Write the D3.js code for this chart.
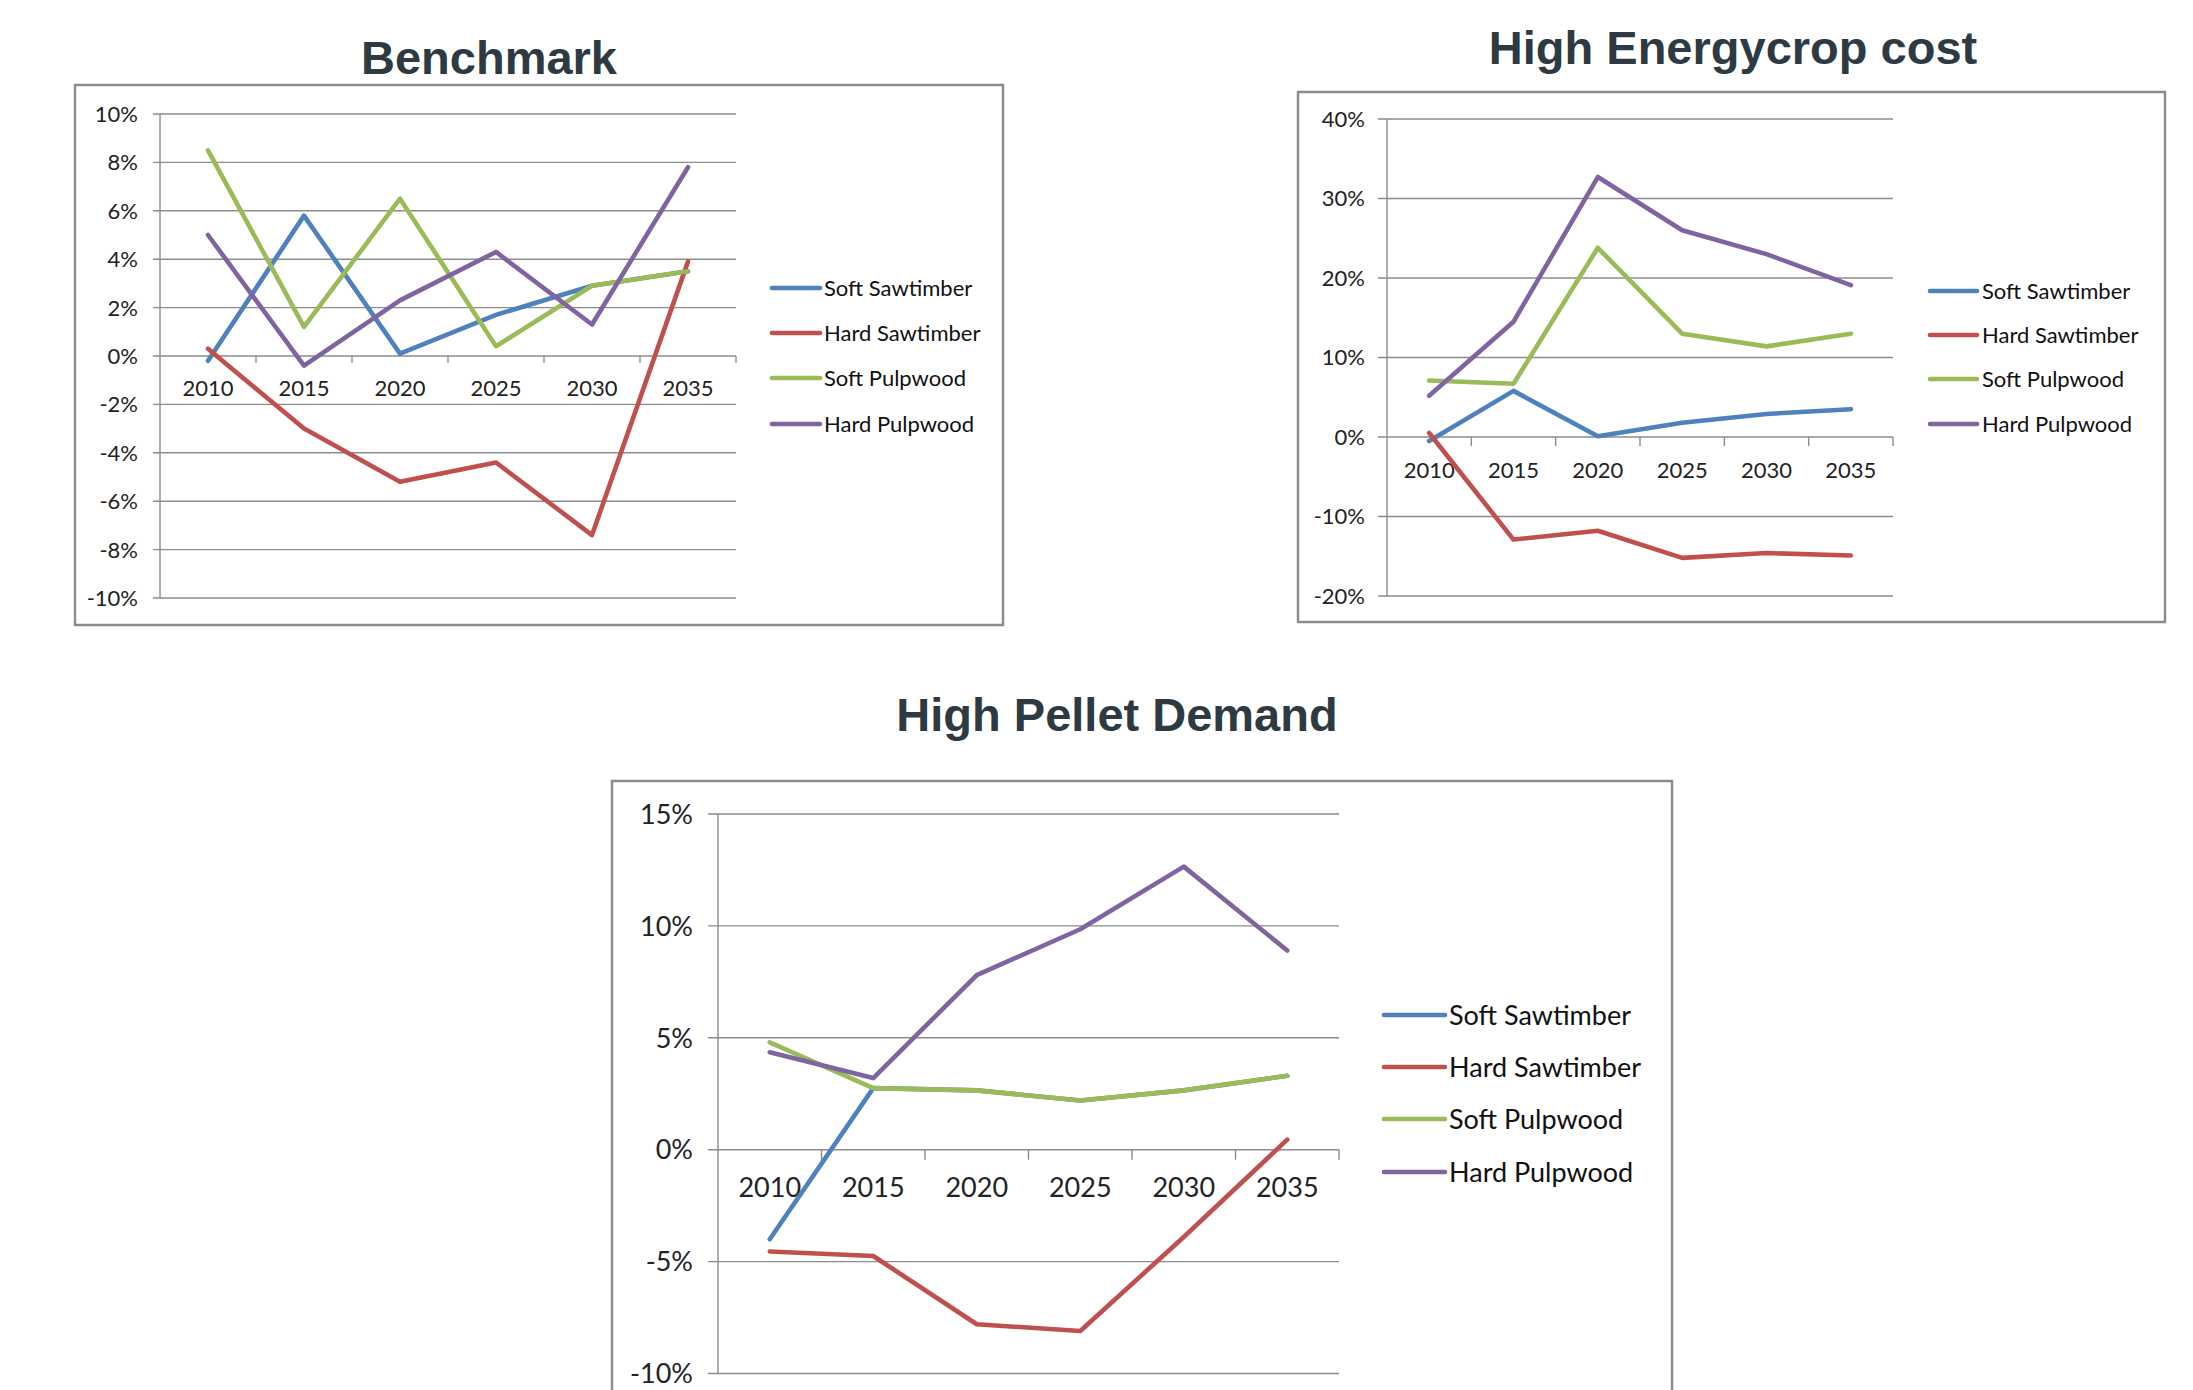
<!DOCTYPE html>
<html>
<head>
<meta charset="utf-8">
<script src="https://cdn.jsdelivr.net/npm/d3@7"></script>
<style>
  html, body { margin: 0; padding: 0; background: #ffffff; }
  svg { display: block; }
</style>
</head>
<body>
<svg id="chart" width="2193" height="1390"></svg>
<script>
// Categories and series shared by all three scenarios
const years = ["2010", "2015", "2020", "2025", "2030", "2035"];
const seriesNames = ["Soft Sawtimber", "Hard Sawtimber", "Soft Pulpwood", "Hard Pulpwood"];
const seriesColors = ["#4F81BD", "#C0504D", "#9BBB59", "#8064A2"];

// Benchmark scenario (% change)
const benchSoftSaw  = [-0.2, 5.8, 0.1, 1.7, 2.9, 3.5];
const benchHardSaw  = [0.3, -3.0, -5.2, -4.4, -7.4, 3.9];
const benchSoftPulp = [8.5, 1.2, 6.5, 0.4, 2.9, 3.5];
const benchHardPulp = [5.0, -0.4, 2.3, 4.3, 1.3, 7.8];
const benchTicks = [-10, -8, -6, -4, -2, 0, 2, 4, 6, 8, 10];

// High Energycrop cost scenario (% change)
const energySoftSaw  = [-0.5, 5.8, 0.1, 1.8, 2.9, 3.5];
const energyHardSaw  = [0.5, -12.9, -11.8, -15.2, -14.6, -14.9];
const energySoftPulp = [7.1, 6.7, 23.8, 13.0, 11.4, 13.0];
const energyHardPulp = [5.2, 14.5, 32.7, 26.0, 23.0, 19.1];
const energyTicks = [-20, -10, 0, 10, 20, 30, 40];

// High Pellet Demand scenario (% change)
const pelletSoftSaw  = [-4.0, 2.75, 2.65, 2.2, 2.65, 3.3];
const pelletHardSaw  = [-4.55, -4.75, -7.8, -8.1, -3.9, 0.45];
const pelletSoftPulp = [4.8, 2.75, 2.65, 2.2, 2.65, 3.3];
const pelletHardPulp = [4.35, 3.2, 7.8, 9.85, 12.65, 8.9];
const pelletTicks = [-10, -5, 0, 5, 10, 15];

const titles = ["Benchmark", "High Energycrop cost", "High Pellet Demand"];

const svg = d3.select("#chart");
const GRID = "#8c8c8c";
const TEXT = "#222222";
const FONT = "Lato, 'Open Sans', sans-serif";

const panels = [
  {
    title: titles[0], series: [benchSoftSaw, benchHardSaw, benchSoftPulp, benchHardPulp], ticks: benchTicks,
    frame: { x: 75, y: 85, w: 928, h: 540 },
    plot: { x0: 160, x1: 736, yTop: 114, yBot: 598 },
    titlePos: { x: 489, y: 74 },
    yearY: 388, font: 22, tickLen: 7, labelGap: 15,
    legend: { lx0: 772, lx1: 820, tx: 824, rows: [288, 333, 378, 424] }
  },
  {
    title: titles[1], series: [energySoftSaw, energyHardSaw, energySoftPulp, energyHardPulp], ticks: energyTicks,
    frame: { x: 1298, y: 92, w: 867, h: 530 },
    plot: { x0: 1387, x1: 1893, yTop: 119, yBot: 596 },
    titlePos: { x: 1733, y: 64 },
    yearY: 470, font: 22, tickLen: 9, labelGap: 15,
    legend: { lx0: 1930, lx1: 1977, tx: 1982, rows: [291, 335, 379, 424] }
  },
  {
    title: titles[2], series: [pelletSoftSaw, pelletHardSaw, pelletSoftPulp, pelletHardPulp], ticks: pelletTicks,
    frame: { x: 612, y: 781, w: 1060, h: 700 },
    plot: { x0: 718, x1: 1339, yTop: 814, yBot: 1373.5 },
    titlePos: { x: 1117, y: 731 },
    yearY: 1187, font: 27, tickLen: 10, labelGap: 18,
    legend: { lx0: 1384, lx1: 1445, tx: 1449, rows: [1015, 1067, 1119, 1172] }
  }
];

panels.forEach(p => {
  const g = svg.append("g");

  // Scenario title
  g.append("text")
    .attr("x", p.titlePos.x).attr("y", p.titlePos.y)
    .attr("text-anchor", "middle")
    .style("font-family", "'Liberation Sans', Arial, sans-serif")
    .style("font-weight", "bold")
    .style("font-size", "47px")
    .style("fill", "#2e3a42")
    .text(p.title);

  // Chart frame
  g.append("rect")
    .attr("x", p.frame.x).attr("y", p.frame.y)
    .attr("width", p.frame.w).attr("height", p.frame.h)
    .attr("fill", "#ffffff")
    .attr("stroke", GRID).attr("stroke-width", 2.5);

  const x = d3.scaleBand().domain(years).range([p.plot.x0, p.plot.x1]);
  const y = d3.scaleLinear()
    .domain([d3.min(p.ticks), d3.max(p.ticks)])
    .range([p.plot.yBot, p.plot.yTop]);

  // Horizontal gridlines with outward tick marks
  g.append("g").selectAll("line.grid")
    .data(p.ticks)
    .join("line")
    .attr("x1", p.plot.x0 - p.tickLen).attr("x2", p.plot.x1)
    .attr("y1", d => y(d)).attr("y2", d => y(d))
    .attr("stroke", GRID).attr("stroke-width", 1.4);

  // Vertical value axis
  g.append("line")
    .attr("x1", p.plot.x0).attr("x2", p.plot.x0)
    .attr("y1", y(d3.max(p.ticks))).attr("y2", y(d3.min(p.ticks)))
    .attr("stroke", GRID).attr("stroke-width", 1.4);

  // Value labels
  g.append("g").selectAll("text")
    .data(p.ticks)
    .join("text")
    .attr("x", p.plot.x0 - p.labelGap - 7)
    .attr("y", d => y(d))
    .attr("dy", "0.36em")
    .attr("text-anchor", "end")
    .style("font-family", FONT)
    .style("font-size", p.font + "px")
    .style("fill", TEXT)
    .text(d => d + "%");

  // Category axis ticks at band boundaries, on the zero line
  const bounds = years.map(d => x(d)).concat([p.plot.x1]);
  g.append("g").selectAll("line")
    .data(bounds.slice(1))
    .join("line")
    .attr("x1", d => d).attr("x2", d => d)
    .attr("y1", y(0)).attr("y2", y(0) + p.tickLen)
    .attr("stroke", GRID).attr("stroke-width", 1.4);

  // Year labels
  g.append("g").selectAll("text")
    .data(years)
    .join("text")
    .attr("x", d => x(d) + x.bandwidth() / 2)
    .attr("y", p.yearY)
    .attr("dy", "0.36em")
    .attr("text-anchor", "middle")
    .style("font-family", FONT)
    .style("font-size", p.font + "px")
    .style("fill", TEXT)
    .text(d => d);

  // Series lines
  const line = d3.line()
    .x((d, i) => x(years[i]) + x.bandwidth() / 2)
    .y(d => y(d));

  g.append("g").selectAll("path")
    .data(p.series)
    .join("path")
    .attr("d", d => line(d))
    .attr("fill", "none")
    .attr("stroke", (d, i) => seriesColors[i])
    .attr("stroke-width", 4.6)
    .attr("stroke-linejoin", "round")
    .attr("stroke-linecap", "round");

  // Legend
  const lg = g.append("g").selectAll("g")
    .data(seriesNames)
    .join("g");
  lg.append("line")
    .attr("x1", p.legend.lx0).attr("x2", p.legend.lx1)
    .attr("y1", (d, i) => p.legend.rows[i]).attr("y2", (d, i) => p.legend.rows[i])
    .attr("stroke", (d, i) => seriesColors[i])
    .attr("stroke-width", 4.6)
    .attr("stroke-linecap", "round");
  lg.append("text")
    .attr("x", p.legend.tx)
    .attr("y", (d, i) => p.legend.rows[i])
    .attr("dy", "0.36em")
    .style("font-family", FONT)
    .style("font-size", p.font + "px")
    .style("fill", "#111111")
    .text(d => d);
});
</script>
</body>
</html>
